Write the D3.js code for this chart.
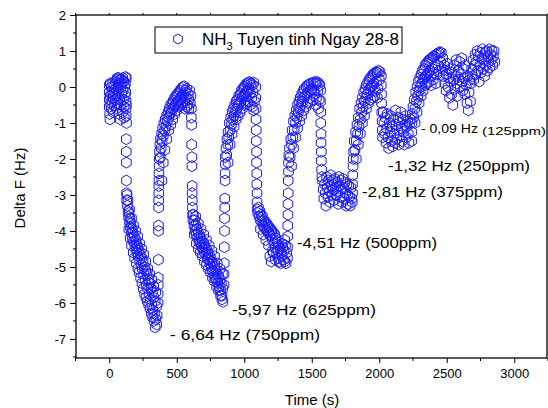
<!DOCTYPE html>
<html><head><meta charset="utf-8">
<script src="https://cdn.jsdelivr.net/npm/d3@7"></script>
<style>
body{margin:0;background:#fff}
svg{display:block}
text{font-family:"Liberation Sans",Arial,sans-serif;fill:#000}
</style>
</head><body>
<svg id="c" width="548" height="408"></svg>
<script>
// ---- data: [time (s), Delta F (Hz)] ----
const baseline = [[0,0.05],[0,-0.15],[0,-0.35],[0,-0.55],[3,-0.75],[5,-0.9],[8,0.1],[8,-0.25],[10,-0.45],[15,0.0],[15,-0.6],[18,-0.2],[20,-0.4],[25,0.1],[25,-0.1],[28,-0.7],[30,-0.3],[35,0.0],[38,-0.5],[40,-0.2],[45,0.15],[45,-0.35],[50,-0.05],[52,-0.6],[55,0.2],[58,-0.25],[60,0.25],[62,-0.45],[65,0.05],[68,-0.15],[70,0.25],[72,-0.75],[75,0.1],[78,-0.35],[80,0.2],[82,-0.9],[85,0.0],[88,-0.5],[90,0.22],[92,-0.2],[95,0.1],[98,-0.7],[100,0.25],[102,-0.1],[105,-0.35],[108,0.15],[110,-0.55],[112,-0.85],[115,0.0],[118,-0.25],[120,0.28],[120,0.1],[122,-0.15],[124,-0.4],[124,-0.6],[125,-0.8],[126,0.25],[127,-0.5],[128,-1.0]];
const cycle750 = [[126,-1.45],[126,-1.8],[127,-2.1],[127,-2.6],[128,-2.95],[129,-3.15],
[132,-3.0],[135,-3.3],[138,-3.15],[140,-3.45],[143,-3.6],[146,-3.5],[150,-3.75],[153,-3.65],[157,-3.9],[160,-3.8],[164,-4.05],[168,-3.95],[172,-4.2],[175,-4.05],[180,-4.3],[185,-4.15],[190,-4.4],[195,-4.25],[198,-4.5],[202,-4.35],[205,-4.6],[210,-4.45],[215,-4.7],[220,-4.55],[225,-4.8],[230,-4.65],[235,-4.95],[240,-4.75],[245,-5.05],[250,-4.85],[255,-5.2],[260,-5.0],[265,-5.35],[270,-5.1],[275,-5.5],[280,-5.2],[285,-5.6],[290,-5.35],[295,-5.75],[300,-5.45],[305,-5.9],[310,-5.6],[315,-6.05],[320,-5.7],[325,-6.2],[330,-5.85],[335,-6.3],[340,-5.95],[345,-6.45],[350,-6.1],[352,-6.6],[355,-6.35],
[145,-3.95],[155,-4.2],[165,-4.4],[178,-4.6],[188,-4.75],[200,-4.9],[212,-5.05],[222,-5.15],[232,-5.3],[242,-5.45],[252,-5.6],[262,-5.75],[272,-5.85],[282,-5.95],[292,-6.05],[302,-6.15],[312,-6.3],[322,-6.4],[332,-6.5],[340,-6.68],
[150,-3.4],[165,-3.65],[180,-3.85],[195,-4.0],[210,-4.15],[225,-4.35],[240,-4.5],[255,-4.65],[270,-4.85],[285,-5.05],[300,-5.2],[315,-5.35],[330,-5.55],[345,-5.7],
[362,-6.0],[362,-5.75],[363,-5.5],[363,-5.3],[364,-4.8],[365,-4.0],[365,-3.85],[366,-3.35],[366,-3.15],[367,-2.95],[367,-2.75],[368,-2.6],[368,-2.4],[369,-2.2],[370,-2.0],
[372,-1.8],[375,-1.6],[378,-1.95],[380,-1.45],[385,-1.7],[388,-1.3],[392,-1.5],[395,-1.15],[400,-1.35],[405,-1.0],[410,-1.2],[415,-0.9],[420,-1.1],[425,-0.8],[430,-0.95],[435,-0.7],[440,-0.85],[445,-0.6],[450,-0.75],[455,-0.5],[460,-0.7],[465,-0.45],[470,-0.6],[475,-0.38],[480,-0.55],[485,-0.3],[490,-0.5],[495,-0.25],[500,-0.45],[505,-0.2],[510,-0.4],[515,-0.15],[520,-0.35],[525,-0.1],[530,-0.3],[535,-0.05],[540,-0.25],[545,0.0],[550,-0.2],[555,0.02],[560,-0.4],[565,-0.1],[570,-0.3],[575,-0.05],[580,-0.5],[585,-0.2],[590,-0.35],[595,-0.1],[600,-0.45],[605,-0.25],
[390,-2.6],[400,-2.1],[412,-1.75],[425,-1.45],[440,-1.2],[455,-1.05],[470,-0.9],[485,-0.75],[500,-0.65],[515,-0.55],[530,-0.5],[545,-0.45],[560,-0.6],[575,-0.55],[590,-0.6]];
const cycle625 = [[608,-0.6],[608,-0.85],[610,-1.05],[610,-1.6],[612,-1.95],[612,-2.2],[614,-2.75],[614,-2.95],[615,-3.15],[616,-3.35],[617,-3.55],
[620,-3.7],[624,-3.55],[628,-3.85],[632,-3.7],[636,-4.0],[640,-3.85],[645,-4.1],[650,-3.95],[655,-4.2],[660,-4.05],[665,-4.3],[670,-4.15],[675,-4.35],[680,-4.2],[685,-4.45],[690,-4.3],[695,-4.5],[700,-4.35],[705,-4.6],[710,-4.45],[715,-4.65],[720,-4.5],[725,-4.75],[730,-4.6],[735,-4.8],[740,-4.65],[745,-4.9],[750,-4.75],[755,-5.0],[760,-4.85],[765,-5.1],[770,-4.9],[775,-5.2],[780,-5.0],[785,-5.3],[790,-5.1],[795,-5.35],[800,-5.2],[805,-5.45],[810,-5.25],[815,-5.55],[820,-5.35],[825,-5.65],[830,-5.45],[835,-5.8],[840,-5.6],[842,-5.97],
[630,-4.1],[645,-4.35],[660,-4.5],[675,-4.6],[690,-4.7],[705,-4.85],[720,-4.95],[735,-5.05],[750,-5.15],[765,-5.3],[780,-5.4],[795,-5.55],[810,-5.65],[825,-5.8],[835,-5.9],
[640,-3.6],[660,-3.8],[680,-3.95],[700,-4.1],[720,-4.25],[740,-4.4],[760,-4.55],[780,-4.7],[800,-4.9],[820,-5.05],[838,-5.2],
[850,-5.5],[850,-5.2],[852,-4.9],[852,-4.45],[854,-4.0],[854,-3.65],[856,-3.35],[856,-3.1],[858,-2.6],[858,-2.4],[860,-2.15],[860,-1.95],
[865,-1.7],[870,-1.9],[872,-1.45],[878,-1.6],[880,-1.25],[885,-1.4],[890,-1.0],[895,-1.2],[900,-0.85],[905,-1.05],[910,-0.7],[915,-0.9],[920,-0.6],[925,-0.8],[930,-0.5],[935,-0.7],[940,-0.4],[945,-0.6],[950,-0.35],[955,-0.5],[960,-0.25],[965,-0.45],[970,-0.2],[975,-0.4],[980,-0.1],[985,-0.3],[990,-0.05],[995,-0.25],[1000,0.0],[1005,-0.2],[1010,0.05],[1015,-0.15],[1020,0.1],[1025,-0.1],[1030,0.12],[1035,-0.05],[1040,0.14],[1045,-0.2],[1050,0.1],[1055,-0.3],[1060,0.05],[1065,-0.15],[1070,0.12],[1075,-0.4],
[880,-2.1],[895,-1.6],[910,-1.3],[925,-1.1],[940,-0.9],[955,-0.8],[970,-0.7],[985,-0.6],[1000,-0.5],[1015,-0.45],[1030,-0.4],[1045,-0.5],[1060,-0.55],[1070,-0.65]];
const cycle500 = [[1085,0.0],[1085,-0.3],[1087,-0.6],[1087,-0.9],[1089,-1.2],[1089,-1.5],[1091,-1.8],[1091,-2.1],[1093,-2.4],[1093,-2.7],[1095,-2.95],[1095,-3.2],[1097,-3.4],
[1100,-3.5],[1105,-3.35],[1110,-3.6],[1115,-3.45],[1120,-3.7],[1125,-3.55],[1130,-3.75],[1135,-3.6],[1140,-3.85],[1145,-3.7],[1150,-3.9],[1155,-3.75],[1160,-3.95],[1165,-3.8],[1170,-4.0],[1175,-3.85],[1180,-4.05],[1185,-3.9],[1190,-4.1],[1190,-4.7],[1195,-3.95],[1200,-4.15],[1200,-4.85],[1205,-4.0],[1210,-4.25],[1215,-4.05],[1215,-4.6],[1220,-4.35],[1225,-4.1],[1230,-4.45],[1230,-4.8],[1235,-4.2],[1240,-4.6],[1245,-4.3],[1250,-4.75],[1255,-4.4],[1260,-4.85],[1265,-4.5],[1270,-4.9],[1275,-4.6],[1280,-4.7],[1285,-4.45],[1290,-4.8],[1295,-4.55],[1300,-4.85],[1305,-4.4],[1310,-4.9],[1315,-4.6],
[1120,-3.95],[1140,-4.1],[1160,-4.25],[1180,-4.4],[1210,-4.55],[1250,-4.55],[1280,-4.35],[1300,-4.25],
[1320,-4.75],[1320,-4.45],[1322,-4.15],[1322,-3.85],[1324,-3.55],[1324,-3.25],[1326,-2.95],[1326,-2.6],[1328,-2.35],[1328,-2.1],[1330,-1.9],
[1335,-1.7],[1340,-1.95],[1345,-1.45],[1350,-1.6],[1355,-1.2],[1360,-1.4],[1365,-0.95],[1370,-1.2],[1375,-0.8],[1380,-1.0],[1385,-0.65],[1390,-0.85],[1395,-0.5],[1400,-0.7],[1405,-0.4],[1410,-0.6],[1415,-0.3],[1420,-0.5],[1425,-0.2],[1430,-0.4],[1435,-0.12],[1440,-0.3],[1445,-0.05],[1450,-0.25],[1460,0.0],[1465,-0.2],[1470,0.05],[1475,-0.15],[1480,0.08],[1490,-0.1],[1495,0.1],[1500,-0.05],[1510,0.12],[1515,-0.1],[1520,0.14],[1525,-0.2],[1530,0.1],[1535,-0.3],[1540,0.14],[1545,-0.1],[1550,0.1],[1555,-0.35],[1560,0.05],
[1350,-2.2],[1365,-1.7],[1380,-1.4],[1395,-1.15],[1410,-0.95],[1425,-0.8],[1440,-0.65],[1455,-0.55],[1470,-0.45],[1490,-0.4],[1510,-0.35],[1530,-0.5],[1550,-0.6]];
const cycle375 = [[1565,-0.1],[1565,-0.4],[1567,-0.7],[1567,-1.0],[1569,-1.3],[1569,-1.55],[1571,-1.8],[1571,-2.05],[1573,-2.3],[1575,-2.5],
[1580,-2.6],[1585,-2.85],[1590,-3.1],[1595,-2.7],[1600,-2.95],[1605,-3.3],[1610,-2.5],[1615,-2.8],[1620,-3.05],[1625,-2.6],[1630,-2.9],[1635,-3.2],[1640,-2.45],[1645,-2.75],[1650,-3.0],[1655,-2.6],[1660,-2.85],[1665,-3.15],[1670,-2.55],[1675,-2.8],[1680,-3.0],[1685,-2.65],[1690,-2.9],[1695,-3.25],[1700,-2.5],[1705,-2.75],[1710,-3.05],[1715,-2.6],[1720,-2.85],[1725,-3.2],[1730,-2.55],[1735,-2.8],[1740,-3.1],[1745,-2.65],[1750,-2.95],[1755,-3.3],[1760,-2.7],[1765,-3.0],[1770,-3.25],[1775,-2.75],[1780,-3.05],[1785,-3.3],[1790,-2.8],[1795,-3.1],
[1800,-3.2],[1802,-2.95],[1802,-2.7],[1804,-2.45],[1806,-2.2],[1808,-2.0],[1810,-1.8],
[1815,-1.5],[1820,-1.75],[1825,-1.25],[1830,-1.5],[1835,-1.05],[1840,-1.3],[1845,-0.85],[1850,-1.1],[1855,-0.6],[1860,-0.9],[1865,-0.45],[1870,-0.7],[1875,-0.3],[1880,-0.55],[1885,-0.15],[1890,-0.4],[1895,-0.05],[1900,-0.3],[1905,0.05],[1910,-0.2],[1915,0.12],[1920,-0.1],[1925,0.2],[1930,-0.05],[1935,0.25],[1940,0.0],[1945,0.3],[1950,0.05],[1955,0.35],[1960,0.1],[1965,0.38],[1970,-0.1],[1975,0.42],[1980,0.15],[1985,0.4],[1990,-0.05],[1995,0.45],[2000,0.2],[2005,0.42],
[1830,-2.0],[1845,-1.6],[1860,-1.3],[1875,-1.0],[1890,-0.8],[1905,-0.6],[1920,-0.45],[1935,-0.35],[1950,-0.3],[1965,-0.25],[1985,-0.3]];
const cycle250 = [[2015,0.3],[2015,0.05],[2017,-0.2],[2017,-0.45],[2019,-0.7],[2021,-0.95],[2023,-1.2],[2025,-1.4],
[2030,-0.7],[2035,-1.0],[2040,-1.3],[2045,-0.85],[2050,-1.55],[2055,-1.15],[2060,-0.75],[2065,-1.4],[2070,-1.7],[2075,-1.0],[2080,-1.25],[2085,-0.8],[2090,-1.5],[2095,-1.1],[2100,-1.65],[2105,-0.9],[2110,-1.3],[2115,-1.55],[2120,-0.65],[2125,-1.05],[2130,-1.45],[2135,-1.2],[2140,-0.85],[2145,-1.6],[2150,-1.0],[2155,-1.35],[2160,-0.7],[2165,-1.15],[2170,-1.5],[2175,-0.9],[2180,-1.25],[2185,-1.6],[2190,-1.05],[2195,-0.8],[2200,-1.4],[2205,-1.1],[2210,-0.95],[2215,-1.3],[2220,-1.55],[2225,-1.0],[2230,-0.9],
[2240,-1.5],[2240,-1.25],[2242,-1.0],[2244,-0.75],
[2250,-0.55],[2255,-0.85],[2260,-0.35],[2265,-0.6],[2270,-0.15],[2275,-0.4],[2280,0.0],[2285,-0.25],[2290,0.15],[2295,-0.1],[2300,0.25],[2305,0.0],[2310,0.35],[2315,0.1],[2320,0.45],[2325,0.2],[2330,0.5],[2335,0.25],[2340,0.6],[2345,0.3],[2350,0.65],[2355,0.35],[2360,0.7],[2365,0.4],[2370,0.75],[2375,0.45],[2380,0.78],[2385,0.3],[2390,0.8],[2395,0.5],[2400,0.85],[2405,0.4],[2410,0.85],[2415,0.55],[2420,0.9],[2425,0.35],[2430,0.92],[2435,0.6],[2440,0.95],[2445,0.45],[2450,0.97],[2455,0.7],[2460,0.95],[2465,0.5],
[2265,-1.0],[2280,-0.7],[2295,-0.45],[2310,-0.25],[2325,-0.1],[2340,0.05],[2355,0.1],[2370,0.15],[2385,0.05],[2400,0.2],[2420,0.1]];
const cycle125 = [[2470,0.8],[2475,0.3],[2480,0.6],[2485,0.1],[2490,0.45],[2495,-0.1],[2500,0.35],[2505,0.65],[2510,0.0],[2515,0.25],[2520,-0.3],[2525,0.5],[2530,0.15],[2535,-0.2],[2540,0.4],[2545,-0.5],[2550,0.2],[2555,0.6],[2560,-0.05],[2565,0.3],[2570,0.75],[2575,0.1],[2580,-0.25],[2585,0.45],[2590,0.2],[2595,0.7],[2600,0.0],[2605,0.35],[2610,0.8],[2615,0.15],[2620,-0.1],[2625,0.5],[2630,0.25],[2635,-0.2],[2640,0.6],[2645,0.05],[2650,-0.45],[2655,0.3],[2660,-0.65],[2665,-0.15],[2670,0.2],[2675,-0.4],
[2680,0.1],[2685,0.5],[2690,0.3],[2695,0.75],[2700,0.2],[2705,0.6],[2710,0.9],[2715,0.35],[2720,0.7],[2725,1.0],[2730,0.45],[2735,0.85],[2740,0.15],[2745,0.6],[2750,0.95],[2755,0.4],[2760,0.8],[2765,1.05],[2770,0.5],[2775,0.75],[2780,0.3],[2785,0.95],[2790,0.6],[2795,1.0],[2800,0.45],[2805,0.85],[2810,0.7],[2815,1.05],[2820,0.55],[2825,0.9],[2830,0.75],[2835,1.0],[2840,0.6],[2845,0.85],[2850,1.0],[2855,0.7]];

const xTickValues = [0,500,1000,1500,2000,2500,3000];
const yTickValues = [-7,-6,-5,-4,-3,-2,-1,0,1,2];
const seriesName = ["NH", "3", " Tuyen tinh Ngay 28-8"];
const annotations = [
  {t:450,  v:-7.03, text:"- 6,64 Hz  (750ppm)", len:150},
  {t:909,  v:-6.33, text:"-5,97 Hz  (625ppm)", len:144},
  {t:1391, v:-4.47, text:"-4,51 Hz (500ppm)", len:140},
  {t:1872, v:-3.06, text:"-2,81 Hz (375ppm)", len:141},
  {t:2065, v:-2.33, text:"-1,32 Hz (250ppm)", len:142}
];

// ---- chart ----
const svg = d3.select("#c");
const L=76, R=547, T=15, B=358;
const x = d3.scaleLinear().domain([-250,3250]).range([75.5,548]);
const y = d3.scaleLinear().domain([-7.53,2]).range([B,T]);
const fmt = d => String(d);

svg.append("rect").attr("x",L).attr("y",T).attr("width",R-L).attr("height",B-T)
  .attr("fill","none").attr("stroke","#000").attr("stroke-width",1.3);

const gx = svg.append("g").attr("transform",`translate(0,${B})`);
gx.call(d3.axisBottom(x).tickValues(xTickValues).tickFormat(fmt).tickSize(5).tickPadding(4))
  .call(g=>g.select(".domain").remove())
  .call(g=>g.selectAll("text").attr("font-size",13).attr("font-family","Liberation Sans, Arial, sans-serif").attr("fill","#000").attr("dy","0.85em"));
gx.selectAll(".minor").data(d3.range(-250,3251,500)).enter().append("line")
  .attr("x1",d=>x(d)).attr("x2",d=>x(d)).attr("y1",0).attr("y2",3).attr("stroke","#000");
const gt = svg.append("g").attr("transform",`translate(0,${T})`);
gt.selectAll("line").data(d3.range(-250,3251,250)).enter().append("line")
  .attr("x1",d=>x(d)).attr("x2",d=>x(d)).attr("y1",0).attr("y2",-2).attr("stroke","#000");

const gy = svg.append("g").attr("transform",`translate(${L},0)`);
gy.call(d3.axisLeft(y).tickValues(yTickValues).tickFormat(fmt).tickSize(6).tickPadding(4))
  .call(g=>g.select(".domain").remove())
  .call(g=>g.selectAll("text").attr("font-size",13).attr("font-family","Liberation Sans, Arial, sans-serif").attr("fill","#000"));
gy.selectAll(".minor").data(d3.range(-7.5,2,1)).enter().append("line")
  .attr("x1",-3).attr("x2",0).attr("y1",d=>y(d)).attr("y2",d=>y(d)).attr("stroke","#000");

svg.append("text").attr("x",312).attr("y",405).attr("text-anchor","middle").attr("font-size",15).text("Time (s)");
svg.append("text").attr("transform","translate(25,188) rotate(-90)").attr("text-anchor","middle").attr("font-size",15).text("Delta F (Hz)");

function hexPath(r){
  const pts=[];
  for(let i=0;i<6;i++){const a=Math.PI/180*(60*i-90);pts.push([r*Math.cos(a),r*Math.sin(a)]);}
  return "M"+pts.map(p=>p[0].toFixed(2)+","+p[1].toFixed(2)).join("L")+"Z";
}
const hex = hexPath(5.5);
const all = [].concat(baseline,cycle750,cycle625,cycle500,cycle375,cycle250,cycle125);
svg.append("g").selectAll("path").data(all).enter().append("path")
  .attr("d",hex).attr("transform",d=>`translate(${x(d[0])},${y(d[1])})`)
  .attr("fill","none").attr("stroke","#1a1aff").attr("stroke-width",1);

svg.append("rect").attr("x",155).attr("y",27).attr("width",247).attr("height",26)
  .attr("fill","#fff").attr("stroke","#000").attr("stroke-width",1);
svg.append("path").attr("d",hexPath(5)).attr("transform","translate(178,39)")
  .attr("fill","none").attr("stroke","#1a1aff").attr("stroke-width",1);
const lt = svg.append("text").attr("x",202).attr("y",45).attr("font-size",17);
lt.append("tspan").text(seriesName[0]);
lt.append("tspan").attr("font-size",11).attr("dy",5).text(seriesName[1]);
lt.append("tspan").attr("dy",-5).text(seriesName[2]);

svg.append("g").selectAll("text").data(annotations).enter().append("text")
  .attr("x",d=>x(d.t)).attr("y",d=>y(d.v)).attr("font-size",15)
  .attr("textLength",d=>d.len).attr("lengthAdjust","spacingAndGlyphs").text(d=>d.text);
svg.append("text").attr("x",x(2309)).attr("y",y(-1.28)).attr("font-size",12.5)
  .attr("textLength",57).attr("lengthAdjust","spacingAndGlyphs").text("- 0,09 Hz");
svg.append("text").attr("x",x(2761)).attr("y",y(-1.33)).attr("font-size",11.5)
  .attr("textLength",64).attr("lengthAdjust","spacingAndGlyphs").text("(125ppm)");
</script>
</body></html>
